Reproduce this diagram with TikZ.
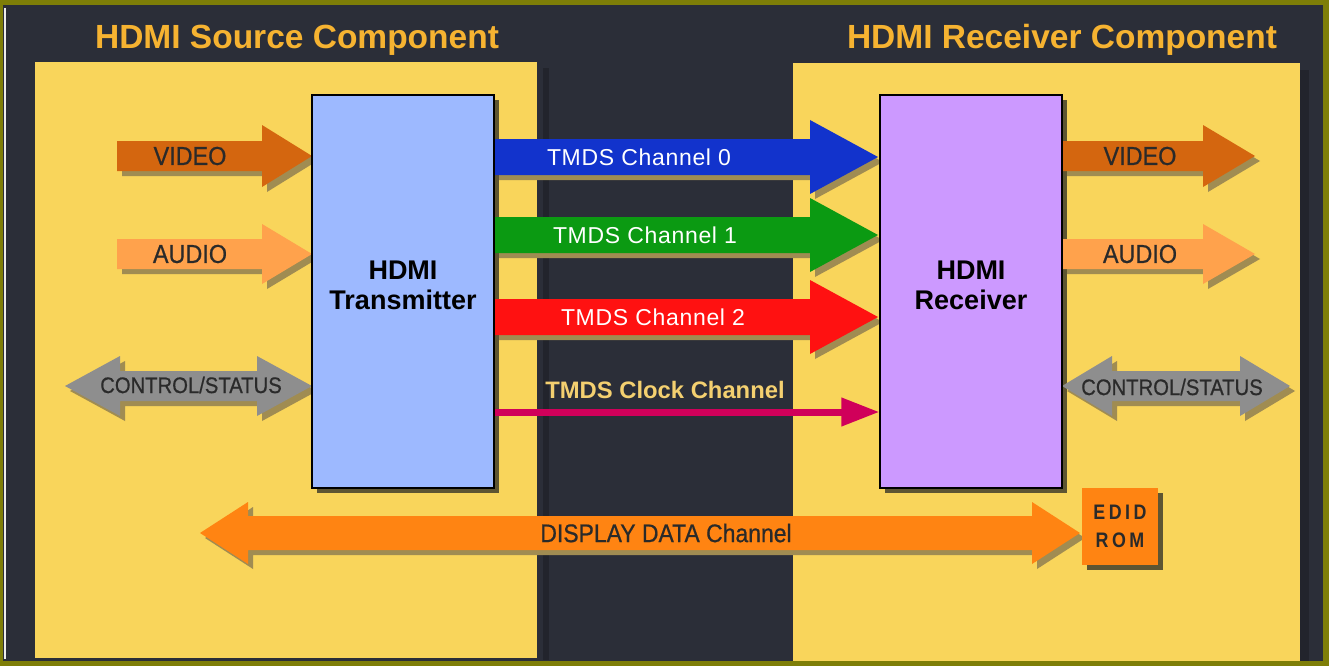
\documentclass[tikz,border=0pt]{standalone}
\usepackage{fontspec}
\setmainfont{Liberation Sans}
\newfontfamily\condfont[FakeStretch=0.9,FakeBold=0.6]{Liberation Sans}
\newfontfamily\condboldfont[FakeStretch=0.85]{Liberation Sans Bold}
\newfontfamily\tmdsfont[LetterSpace=3]{Liberation Sans}
\usetikzlibrary{arrows.meta}
\definecolor{bgdark}{HTML}{2B2E38}
\definecolor{bgshadow}{HTML}{22242C}
\definecolor{olive}{HTML}{7E7E08}
\definecolor{panel}{HTML}{F9D55B}
\definecolor{titlec}{HTML}{F6B331}
\definecolor{txc}{HTML}{9DB9FF}
\definecolor{rxc}{HTML}{CC99FF}
\definecolor{boxshadow}{HTML}{5E5532}
\definecolor{arrshadow}{HTML}{A08C52}
\definecolor{videoc}{HTML}{D4660F}
\definecolor{audioc}{HTML}{FFA24C}
\definecolor{ctrlc}{HTML}{8E8E8E}
\definecolor{ch0c}{HTML}{1233CC}
\definecolor{ch1c}{HTML}{0B9A12}
\definecolor{ch2c}{HTML}{FF1111}
\definecolor{clkc}{HTML}{D0005A}
\definecolor{clktext}{HTML}{F4D070}
\definecolor{ddcc}{HTML}{FF8412}
\definecolor{labeltext}{HTML}{2A2A2A}
% right-pointing fat arrow: x1, xtip, y, halfbody, halfhead, headlength, colour
\newcommand\hdmiRArrow[7]{%
  \fill[arrshadow] (#1+5,#3-#4+5) -- (#2-#6+5,#3-#4+5) -- (#2-#6+5,#3-#5+5) -- (#2+5,#3+5)
    -- (#2-#6+5,#3+#5+5) -- (#2-#6+5,#3+#4+5) -- (#1+5,#3+#4+5) -- cycle;
  \fill[#7] (#1,#3-#4) -- (#2-#6,#3-#4) -- (#2-#6,#3-#5) -- (#2,#3)
    -- (#2-#6,#3+#5) -- (#2-#6,#3+#4) -- (#1,#3+#4) -- cycle;}
% double fat arrow
\newcommand\hdmiDArrow[7]{%
  \fill[arrshadow] (#1+5,#3+5) -- (#1+#6+5,#3-#5+5) -- (#1+#6+5,#3-#4+5) -- (#2-#6+5,#3-#4+5)
    -- (#2-#6+5,#3-#5+5) -- (#2+5,#3+5) -- (#2-#6+5,#3+#5+5) -- (#2-#6+5,#3+#4+5)
    -- (#1+#6+5,#3+#4+5) -- (#1+#6+5,#3+#5+5) -- cycle;
  \fill[#7] (#1,#3) -- (#1+#6,#3-#5) -- (#1+#6,#3-#4) -- (#2-#6,#3-#4)
    -- (#2-#6,#3-#5) -- (#2,#3) -- (#2-#6,#3+#5) -- (#2-#6,#3+#4)
    -- (#1+#6,#3+#4) -- (#1+#6,#3+#5) -- cycle;}
\begin{document}
\begin{tikzpicture}[x=1pt,y=-1pt,
  title/.style={font=\bfseries\fontsize{33.5}{34}\selectfont, text=titlec, inner sep=0},
  bigbox/.style={draw=black, line width=1.2pt, minimum width=182pt, minimum height=393pt},
  boxtext/.style={align=center, font=\bfseries\fontsize{27}{30}\selectfont, text=black, inner sep=0},
  lbl/.style={font=\condfont\fontsize{26}{26}\selectfont, text=labeltext, inner sep=0},
  ddclbl/.style={font=\condfont\fontsize{25.5}{26}\selectfont, text=labeltext, inner sep=0},
  ctrllbl/.style={font=\condfont\fontsize{22.5}{23}\selectfont, text=labeltext, inner sep=0},
  tmdslbl/.style={font=\tmdsfont\fontsize{23}{24}\selectfont, text=white, inner sep=0},
  clklbl/.style={font=\bfseries\fontsize{23.8}{24}\selectfont, text=clktext, inner sep=0},
  clockline/.style={draw=clkc, line width=7pt, -{Triangle[length=38pt,width=27pt]}},
]
\useasboundingbox (0,0) rectangle (1329,666);
% background and frame
\fill[olive] (0,0) rectangle (1329,666);
\fill[bgdark] (3,5) rectangle (1323,661);
\draw[white!85!gray, line width=2.5pt] (5,8) -- (5,659);
% panels
\fill[bgshadow] (543,68) rectangle (549,660);
\fill[bgshadow] (1300,70) rectangle (1309,661);
\fill[panel] (35,62) rectangle (537,658);
\fill[panel] (793,63) rectangle (1300,661);
% titles
\node[title] (srctitle) at (297,40) {HDMI Source Component};
\node[title] (rxtitle) at (1062,40) {HDMI Receiver Component};
% box shadows
\fill[boxshadow] (317,100) rectangle (499,493);
\fill[boxshadow] (885,100) rectangle (1067,493);
\fill[boxshadow] (1087,493) rectangle (1163,570);
% source side arrows
\hdmiRArrow{117}{312}{156}{15}{31}{50}{videoc}
\hdmiRArrow{117}{312}{254}{15}{30}{50}{audioc}
\hdmiDArrow{65}{312}{386}{15}{30}{55}{ctrlc}
% receiver side arrows
\hdmiRArrow{1062}{1255}{156}{15}{31}{52}{videoc}
\hdmiRArrow{1062}{1255}{254}{15}{30}{52}{audioc}
\hdmiDArrow{1062}{1290}{386}{15}{30}{50}{ctrlc}
% TMDS channels
\hdmiRArrow{494}{878}{157}{18}{37}{68}{ch0c}
\hdmiRArrow{494}{878}{235}{18}{37}{68}{ch1c}
\hdmiRArrow{494}{878}{317}{18}{37}{68}{ch2c}
% display data channel
\hdmiDArrow{200}{1080}{533}{17}{31}{48}{ddcc}
% boxes
\node[bigbox, fill=txc] (tx) at (403,291.5) {};
\node[bigbox, fill=rxc] (rx) at (971,291.5) {};
\node[boxtext] (txlbl) at (403,285) {HDMI\\Transmitter};
\node[boxtext] (rxlbl) at (971,285) {HDMI\\Receiver};
\node[fill=ddcc, minimum width=76pt, minimum height=77pt, inner sep=0, align=center,
  font=\condboldfont\fontsize{21}{28}\selectfont, text=labeltext] (edid) at (1120,526.5)
  {E\,D\,I\,D\\R\,O\,M};
% clock channel
\coordinate (clk) at (0,412);
\draw[clockline] (tx.east |- clk) -- (rx.west |- clk);
% labels
\node[lbl] (vidL) at (190,156) {VIDEO};
\node[lbl] (audL) at (190,254) {AUDIO};
\node[ctrllbl] (ctlL) at (191,385) {CONTROL/STATUS};
\node[lbl] (vidR) at (1140,156) {VIDEO};
\node[lbl] (audR) at (1140,254) {AUDIO};
\node[ctrllbl] (ctlR) at (1172,387) {CONTROL/STATUS};
\node[tmdslbl] (ch0) at (639,157) {TMDS Channel 0};
\node[tmdslbl] (ch1) at (645,235) {TMDS Channel 1};
\node[tmdslbl] (ch2) at (653,317) {TMDS Channel 2};
\node[clklbl] (clkl) at (665,390) {TMDS Clock Channel};
\node[ddclbl] (ddc) at (666,533) {DISPLAY DATA Channel};
\end{tikzpicture}
\end{document}
